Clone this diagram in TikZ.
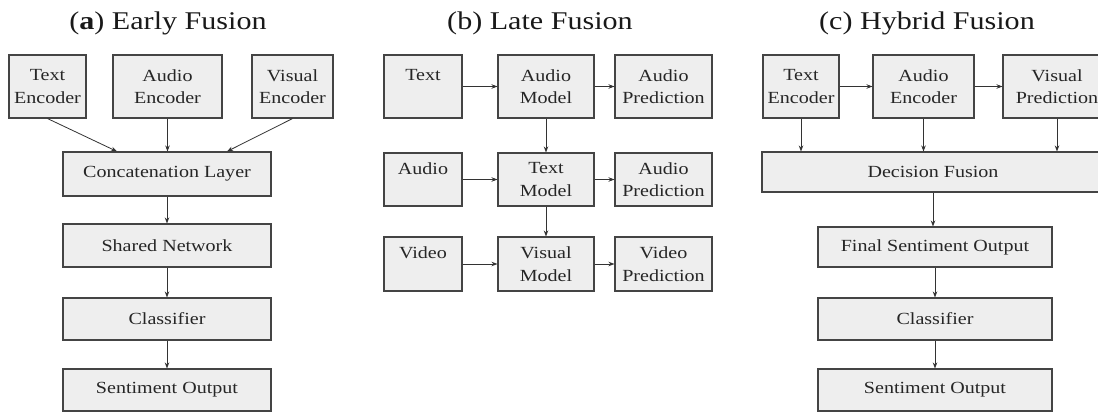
\documentclass[tikz,border=0pt]{standalone}
\usepackage{fontspec}
\setmainfont{Liberation Serif}[FakeStretch=1.18]
\usetikzlibrary{arrows.meta,calc}
\definecolor{boxfill}{HTML}{EEEEEE}
\definecolor{boxline}{HTML}{444444}
\definecolor{arrline}{HTML}{333333}
\tikzset{
  box/.style={draw=boxline, line width=1.1pt, fill=boxfill, align=center, inner sep=0pt,
    text=black!85, font=\fontsize{17}{22.5}\selectfont},
  arr/.style={draw=arrline, line width=0.8pt, -{Stealth[length=6pt,width=4.5pt]}},
  ttl/.style={text=black!90, font=\fontsize{25.5}{29}\selectfont}
}
\begin{document}
\begin{tikzpicture}[x=1pt,y=-1pt]
\useasboundingbox (0,0) rectangle (1098,412);
\fill[white] (0,0) rectangle (1098,412);
\clip (0,0) rectangle (1098,412);

% ---------- (a) Early Fusion ----------
\node[ttl] (tA) at (168,23) {(\textbf{a}) Early Fusion};
\node[box, minimum width=77pt, minimum height=63pt] (ta) at (47.5,86.5) {Text\\Encoder};
\node[box, minimum width=109pt, minimum height=63pt] (aa) at (167.5,86.5) {Audio\\Encoder};
\node[box, minimum width=81pt, minimum height=63pt] (va) at (292.5,86.5) {Visual\\Encoder};
\node[box, minimum width=208pt, minimum height=44pt] (cat) at (167,174) {Concatenation Layer};
\node[box, minimum width=208pt, minimum height=43pt] (sha) at (167,245.5) {Shared Network};
\node[box, minimum width=208pt, minimum height=42pt] (cla) at (167,319) {Classifier};
\node[box, minimum width=208pt, minimum height=42pt] (sena) at (167,390) {Sentiment Output};
\draw[arr] (ta.south) -- ([xshift=-50pt]cat.north);
\draw[arr] (aa.south) -- (aa.south |- cat.north);
\draw[arr] (va.south) -- ([xshift=60pt]cat.north);
\draw[arr] (cat) -- (sha);
\draw[arr] (sha) -- (cla);
\draw[arr] (cla) -- (sena);

% ---------- (b) Late Fusion ----------
\node[ttl] (tB) at (540,23) {(b) Late Fusion};
\node[box, minimum width=78pt, minimum height=63pt] (tb) at (423,86.5) {Text\\\mbox{}};
\node[box, minimum width=96pt, minimum height=63pt] (amb) at (546,86.5) {Audio\\Model};
\node[box, minimum width=97pt, minimum height=63pt] (apb) at (663.5,86.5) {Audio\\Prediction};
\node[box, minimum width=78pt, minimum height=53pt] (ab) at (423,179.5) {Audio\\\mbox{}};
\node[box, minimum width=96pt, minimum height=53pt] (tmb) at (546,179.5) {Text\\Model};
\node[box, minimum width=97pt, minimum height=53pt] (apb2) at (663.5,179.5) {Audio\\Prediction};
\node[box, minimum width=78pt, minimum height=54pt] (vb) at (423,264) {Video\\\mbox{}};
\node[box, minimum width=96pt, minimum height=54pt] (vmb) at (546,264) {Visual\\Model};
\node[box, minimum width=97pt, minimum height=54pt] (vpb) at (663.5,264) {Video\\Prediction};
\draw[arr] (tb) -- (amb);
\draw[arr] (amb) -- (apb);
\draw[arr] (amb) -- (tmb);
\draw[arr] (ab) -- (tmb);
\draw[arr] (tmb) -- (apb2);
\draw[arr] (tmb) -- (vmb);
\draw[arr] (vb) -- (vmb);
\draw[arr] (vmb) -- (vpb);

% ---------- (c) Hybrid Fusion ----------
\node[ttl] (tC) at (927,23) {(c) Hybrid Fusion};
\node[box, minimum width=76pt, minimum height=63pt] (tc) at (801,86.5) {Text\\Encoder};
\node[box, minimum width=101pt, minimum height=63pt] (ac) at (923.5,86.5) {Audio\\Encoder};
\node[box, minimum width=108pt, minimum height=63pt] (vc) at (1057,86.5) {Visual\\Prediction};
\node[box, minimum width=342pt, minimum height=40pt] (df) at (933,172) {Decision Fusion};
\node[box, minimum width=234pt, minimum height=40pt] (fso) at (935,247) {Final Sentiment Output};
\node[box, minimum width=234pt, minimum height=42pt] (clc) at (935,319) {Classifier};
\node[box, minimum width=234pt, minimum height=42pt] (sc) at (935,390) {Sentiment Output};
\draw[arr] (tc) -- (ac);
\draw[arr] (ac) -- (vc);
\draw[arr] (tc.south) -- (tc.south |- df.north);
\draw[arr] (ac.south) -- (ac.south |- df.north);
\draw[arr] (vc.south) -- (vc.south |- df.north);
\draw[arr] (df.south) -- (df.south |- fso.north);
\draw[arr] (fso.south) -- (fso.south |- clc.north);
\draw[arr] (clc.south) -- (clc.south |- sc.north);
\end{tikzpicture}
\end{document}
